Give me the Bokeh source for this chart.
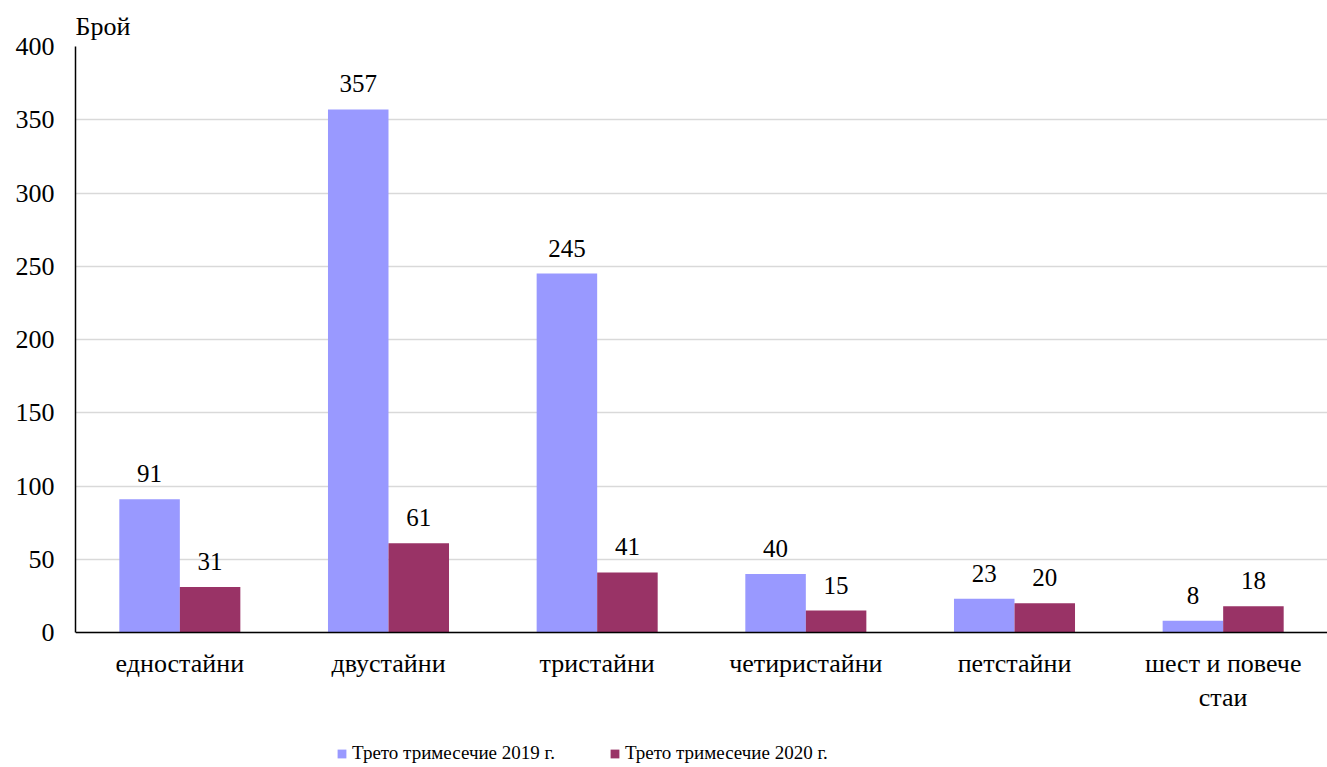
from bokeh.plotting import figure
from bokeh.models import ColumnDataSource, FactorRange, Range1d, Legend, LegendItem, Span
from bokeh.transform import dodge
from bokeh.core.properties import value
from bokeh.embed import file_html
from bokeh.resources import INLINE

categories = ["едностайни", "двустайни", "тристайни", "четиристайни", "петстайни", "шест и повече стаи"]
category_labels = ["едностайни", "двустайни", "тристайни", "четиристайни", "петстайни", "шест и повече\nстаи"]
series_2019 = [91, 357, 245, 40, 23, 8]
series_2020 = [31, 61, 41, 15, 20, 18]
legend_labels = ["Трето тримесечие 2019 г.", "Трето тримесечие 2020 г."]
y_ticks = [0, 50, 100, 150, 200, 250, 300, 350, 400]
y_title = "Брой"

FONT = "Liberation Serif"
C2019 = "#9999FF"
C2020 = "#993366"

# layout constants (pixels)
W, H = 1327, 767
LEFT, TOP = 75, 46
AXIS_PX = 586            # pixels for 0..400
Y_MAX = 400
below_px = H - TOP - AXIS_PX
y_min = -below_px * Y_MAX / AXIS_PX

src = ColumnDataSource(dict(
    cat=categories,
    lab=category_labels,
    zero=[0] * len(categories),
    v19=series_2019,
    v20=series_2020,
    t19=[str(v) for v in series_2019],
    t20=[str(v) for v in series_2020],
))

p = figure(
    x_range=FactorRange(*categories, range_padding=0),
    y_range=Range1d(y_min, Y_MAX),
    width=W, height=H,
    output_backend="svg", toolbar_location=None,
    min_border_left=LEFT, min_border_right=0, min_border_top=TOP, min_border_bottom=0,
    title=y_title,
)
p.outline_line_color = None
p.background_fill_color = "white"

p.title.align = "left"
p.title.text_font = FONT
p.title.text_font_size = "26px"
p.title.text_font_style = "normal"
p.title.text_color = "black"
p.title.standoff = 12
p.title.offset = 0

bw = 0.29
r19 = p.vbar(x=dodge("cat", -bw / 2, range=p.x_range), top="v19", width=bw, source=src,
             fill_color=C2019, line_color=None)
r20 = p.vbar(x=dodge("cat", bw / 2, range=p.x_range), top="v20", width=bw, source=src,
             fill_color=C2020, line_color=None)

for ycol, tcol, off in (("v19", "t19", -bw / 2), ("v20", "t20", bw / 2)):
    p.text(x=dodge("cat", off, range=p.x_range), y=ycol, text=tcol, source=src,
           text_font=value(FONT), text_font_size="25px", text_align="center",
           text_baseline="bottom", y_offset=-17, text_color="black")

# category labels under the baseline
p.text(x="cat", y="zero", text="lab", source=src,
       text_font=value(FONT), text_font_size="26px", text_align="center",
       text_baseline="top", y_offset=16, text_color="black", text_line_height=1.2)

# baseline
p.add_layout(Span(location=0, dimension="width", line_color="black", line_width=1.5))

# y axis
p.yaxis.ticker = y_ticks
p.yaxis.bounds = (0, Y_MAX)
p.yaxis.major_tick_line_color = None
p.yaxis.minor_tick_line_color = None
p.yaxis.axis_line_color = "black"
p.yaxis.axis_line_width = 1.5
p.yaxis.major_label_text_font = FONT
p.yaxis.major_label_text_font_size = "26px"
p.yaxis.major_label_text_color = "black"
p.yaxis.major_label_standoff = 15

p.xaxis.visible = False
p.xgrid.grid_line_color = None
p.ygrid.ticker = y_ticks
p.ygrid.grid_line_color = "#d9d9d9"
p.ygrid.grid_line_width = 1.5

legend = Legend(
    items=[LegendItem(label=legend_labels[0], renderers=[r19]),
           LegendItem(label=legend_labels[1], renderers=[r20])],
    orientation="horizontal",
    location=(261, 3),
    label_text_font=FONT, label_text_font_size="19px", label_text_color="black",
    glyph_width=11, glyph_height=11, label_standoff=5, spacing=54,
    padding=0, margin=0, border_line_color=None, background_fill_alpha=0,
)
p.add_layout(legend, "center")

open("out.html", "w").write(file_html(p, INLINE))
